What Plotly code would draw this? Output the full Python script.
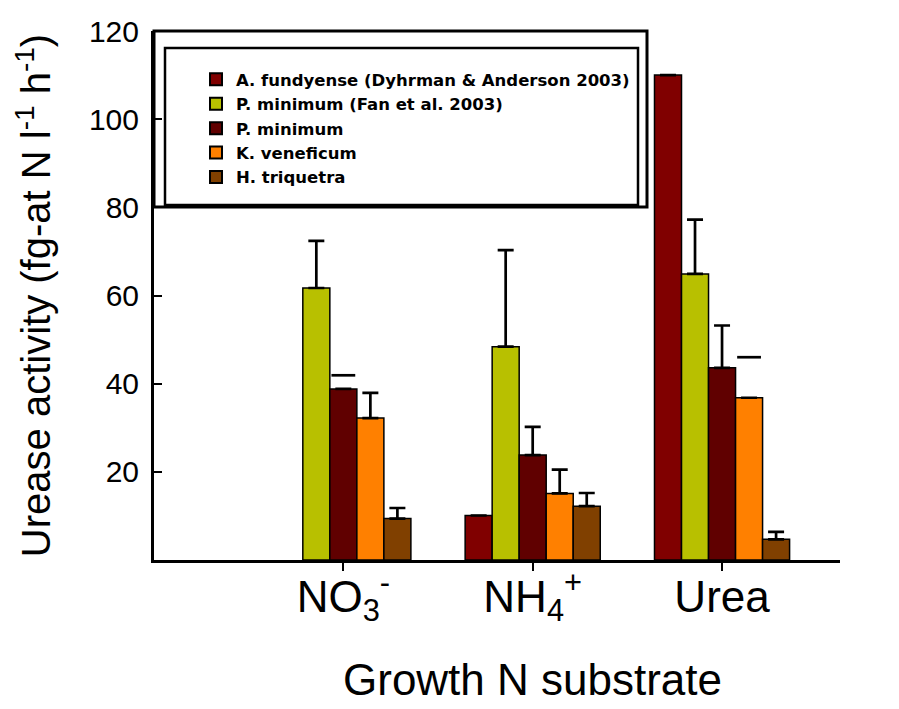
import plotly.graph_objects as go

# ---- data ----
categories = ["NO<sub>3</sub><sup>-</sup>", "NH<sub>4</sub><sup>+</sup>", "Urea"]
series_names = [
    "A. fundyense (Dyhrman & Anderson 2003)",
    "P. minimum (Fan et al. 2003)",
    "P. minimum",
    "K. veneficum",
    "H. triquetra",
]
a_fundyense = [None, 10.1, 110.0]
a_fundyense_err = [None, None, None]
p_minimum_fan = [61.7, 48.4, 64.9]
p_minimum_fan_err = [10.7, 21.9, 12.3]
p_minimum = [38.8, 23.8, 43.6]
p_minimum_err = [3.1, 6.4, 9.6]
k_veneficum = [32.2, 15.1, 36.8]
k_veneficum_err = [5.7, 5.4, 9.2]
h_triquetra = [9.4, 12.2, 4.7]
h_triquetra_err = [2.4, 3.0, 1.7]
# error bars drawn as a floating cap only (as in the original figure)
p_minimum_cap_only = [True, False, False]
k_veneficum_cap_only = [False, False, True]
none_cap_only = [False, False, False]

colors = ["#800000", "#B8C000", "#600000", "#FF8000", "#804000"]

values = [a_fundyense, p_minimum_fan, p_minimum, k_veneficum, h_triquetra]
errors = [a_fundyense_err, p_minimum_fan_err, p_minimum_err, k_veneficum_err, h_triquetra_err]
cap_only = [none_cap_only, none_cap_only, p_minimum_cap_only, k_veneficum_cap_only, none_cap_only]

FONT = "Liberation Sans, Arial, sans-serif"
LEG_FONT = "DejaVu Sans, Liberation Sans, Arial, sans-serif"
bw = 0.1427
positions = [1, 2, 3]

fig = go.Figure()
for s, (name, vals, errs, caps, col) in enumerate(zip(series_names, values, errors, cap_only, colors)):
    xs = [p + (s - 2) * bw for p in positions]
    stem_err = [None if (c or e is None) else e for e, c in zip(errs, caps)]
    fig.add_trace(go.Bar(
        x=xs, y=vals, width=bw, name=name,
        marker=dict(color=col, line=dict(color="black", width=1.5)),
        error_y=dict(type="data", array=stem_err, arrayminus=[0] * len(vals), symmetric=False,
                     color="black", thickness=2.7, width=8),
    ))
    cx = [x for x, c in zip(xs, caps) if c]
    cy = [v + e for v, e, c in zip(vals, errs, caps) if c]
    if cx:
        fig.add_trace(go.Scatter(
            x=cx, y=cy, mode="markers", showlegend=False, hoverinfo="skip",
            marker=dict(symbol="line-ew", size=17, line=dict(color="black", width=2.7)),
        ))

L, R, T, B = 154, 59, 31, 149
W, H = 899, 709
pw, ph = W - L - R, H - T - B

def px_x(x):
    return (x - L) / pw

def px_y(y):
    return (H - B - y) / ph

# outer frame and legend box
fig.add_shape(type="rect", xref="paper", yref="paper",
              x0=0, x1=px_x(647), y0=px_y(207), y1=1,
              line=dict(color="black", width=3), fillcolor="rgba(0,0,0,0)")
fig.add_shape(type="rect", xref="paper", yref="paper",
              x0=px_x(165), x1=px_x(638), y0=px_y(205), y1=px_y(48),
              line=dict(color="black", width=2.5), fillcolor="rgba(0,0,0,0)")

# x-axis title (centred as in the original, not on the plot area)
fig.add_annotation(text="Growth N substrate", xref="paper", yref="paper",
                   x=px_x(532), y=px_y(679), xanchor="center", yanchor="middle",
                   showarrow=False, font=dict(family=FONT, size=44, color="black"))

fig.update_layout(
    width=W, height=H,
    margin=dict(l=L, r=R, t=T, b=B, pad=0, autoexpand=False),
    paper_bgcolor="white", plot_bgcolor="white",
    barmode="overlay",
    font=dict(family=FONT, color="black"),
    showlegend=True,
    legend=dict(
        x=px_x(196), y=px_y(62), xanchor="left", yanchor="top",
        bgcolor="rgba(0,0,0,0)", borderwidth=0,
        font=dict(family=LEG_FONT, size=16.5, color="black", weight="bold"),
        itemsizing="constant", tracegroupgap=0,
    ),
    xaxis=dict(
        range=[0, 3.623], tickvals=positions, ticktext=categories,
        showline=True, linecolor="black", linewidth=3,
        ticks="outside", ticklen=8, tickwidth=2, tickcolor="black",
        tickfont=dict(family=FONT, size=44), ticklabelstandoff=-12,
        showgrid=False, zeroline=False, automargin=False,
    ),
    yaxis=dict(
        range=[0, 120], tickvals=[20, 40, 60, 80, 100, 120],
        showline=True, linecolor="black", linewidth=3,
        ticks="inside", ticklen=8, tickwidth=2, tickcolor="black",
        tickfont=dict(family=FONT, size=30), ticklabelstandoff=6,
        showgrid=False, zeroline=False, automargin=False,
        title=dict(text="Urease activity (fg-at N l<sup>-1</sup> h<sup>-1</sup>)",
                   font=dict(family=FONT, size=40), standoff=26),
    ),
)

fig.write_html("out.html", post_script="document.body.style.margin='0';",
               config={"displayModeBar": False})
